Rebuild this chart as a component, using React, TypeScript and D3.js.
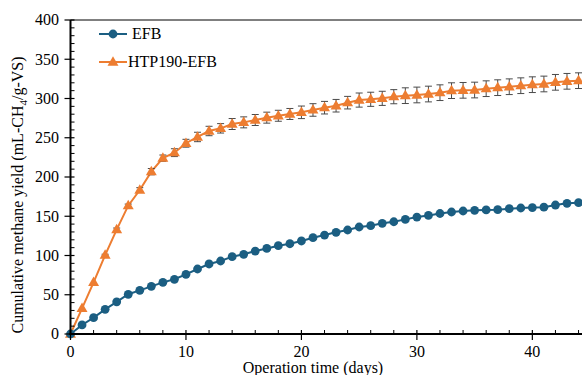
import React from 'react';
import * as d3 from 'd3';

const days = d3.range(0, 45);

const efbYield = [
  0, 11.5, 20.8, 31.4, 41, 50.6, 55.6, 60.7, 65.8, 69.7,
  76, 82.8, 89.2, 93, 98.5, 101.5, 105.7, 109, 112.5, 115,
  118.5, 122.7, 126, 129.5, 132.5, 136.3, 138, 141, 143, 146,
  149, 151, 153.5, 155.4, 156.7, 157.5, 158, 158.4, 159.7, 160.5,
  161, 161.5, 164.3, 166.5, 167.3,
];

const htpYield = [
  0, 32.7, 65.8, 100.6, 133, 163.5, 183.4, 206.8, 224, 231,
  243, 251, 258.6, 262, 267.5, 269.6, 272.6, 275.6, 278, 280.3,
  282.4, 285.4, 288.3, 290.8, 294.7, 298, 299, 300.2, 302.3, 303.6,
  304.5, 305.7, 307.4, 310, 310.4, 310.8, 312.5, 313.8, 315, 316.3,
  317.6, 318.5, 320.6, 321.9, 322.7,
];

const htpError = [
  0, 0, 0, 1, 2, 2, 3, 4, 4, 5,
  5, 6, 6, 6, 7, 7, 7, 7, 7, 7,
  8, 8, 8, 8, 8, 9, 9, 9, 9, 10,
  10, 10, 10, 10, 10, 10, 10, 10, 10, 10,
  10, 10, 10, 10, 10,
];

const xMajorTicks = [0, 10, 20, 30, 40];
const yMajorTicks = [0, 50, 100, 150, 200, 250, 300, 350, 400];

const BLUE = '#1b5e82';
const ORANGE = '#ed7d31';
const FONT = '"Liberation Serif", "Times New Roman", serif';

const App: React.FC = () => {
  const width = 582;
  const height = 375;
  const left = 70.5;
  const top = 20;
  const bottom = 334;

  const x = d3.scaleLinear().domain([0, 44.3]).range([left, width]);
  const y = d3.scaleLinear().domain([0, 400]).range([bottom, top]);

  const xMinor = d3.range(0, 46, 2).filter(t => t % 10 !== 0);
  const yMinor = d3.range(0, 401, 10).filter(t => t % 50 !== 0);

  const line = d3.line<number>().x((_, i) => x(days[i])).y(v => y(v));
  const tri = d3.symbol().type(d3.symbolTriangle).size(52)();

  return (
    <svg
      width={width}
      height={height}
      style={{ position: 'absolute', left: 0, top: 0, background: '#fff', fontFamily: FONT }}
    >
      {/* frame */}
      <line x1={left} x2={width} y1={top} y2={top} stroke="#000" strokeWidth={1} />

      {/* HTP190-EFB */}
      <path d={line(htpYield) || ''} fill="none" stroke={ORANGE} strokeWidth={2} />
      {htpYield.map((v, i) => {
        const e = htpError[i];
        if (!e) return null;
        const cx = x(days[i]);
        return (
          <g key={`err-${i}`} stroke="#4a4a4a" strokeWidth={1}>
            <line x1={cx} x2={cx} y1={y(v + e)} y2={y(v - e)} />
            <line x1={cx - 3.5} x2={cx + 3.5} y1={y(v + e)} y2={y(v + e)} />
            <line x1={cx - 3.5} x2={cx + 3.5} y1={y(v - e)} y2={y(v - e)} />
          </g>
        );
      })}
      {htpYield.map((v, i) => (
        <path
          key={`htp-${i}`}
          d={tri || ''}
          transform={`translate(${x(days[i])},${y(v) + 0.5})`}
          fill={ORANGE}
        />
      ))}

      {/* EFB */}
      <path d={line(efbYield) || ''} fill="none" stroke={BLUE} strokeWidth={2} />
      {efbYield.map((v, i) => (
        <circle key={`efb-${i}`} cx={x(days[i])} cy={y(v)} r={4.4} fill={BLUE} />
      ))}

      {/* X axis */}
      <line x1={left - 1} x2={width} y1={bottom} y2={bottom} stroke="#000" strokeWidth={2} />
      {xMajorTicks.map(t => (
        <g key={`xt-${t}`}>
          <line x1={x(t)} x2={x(t)} y1={bottom - 4} y2={bottom + 6} stroke="#000" strokeWidth={1.2} />
          <text x={x(t)} y={357} textAnchor="middle" fontSize={16}>{t}</text>
        </g>
      ))}
      {xMinor.map(t => (
        <line key={`xm-${t}`} x1={x(t)} x2={x(t)} y1={bottom - 4} y2={bottom} stroke="#000" strokeWidth={1} />
      ))}
      <text x={313} y={373} textAnchor="middle" fontSize={16}>Operation time (days)</text>

      {/* Y axis */}
      <line x1={left} x2={left} y1={top} y2={bottom + 1} stroke="#000" strokeWidth={2} />
      {yMajorTicks.map(t => (
        <g key={`yt-${t}`}>
          <line x1={left - 6} x2={left + 4} y1={y(t)} y2={y(t)} stroke="#000" strokeWidth={1.2} />
          <text x={59} y={y(t)} dy="0.33em" textAnchor="end" fontSize={16}>{t}</text>
        </g>
      ))}
      {yMinor.map(t => (
        <line key={`ym-${t}`} x1={left} x2={left + 4} y1={y(t)} y2={y(t)} stroke="#000" strokeWidth={1} />
      ))}
      <text transform="translate(23,195) rotate(-90)" textAnchor="middle" fontSize={16}>
        Cumulative methane yield (mL-CH
        <tspan fontSize={11} dy={4}>4</tspan>
        <tspan dy={-4}>/g-VS)</tspan>
      </text>

      {/* Legend */}
      <line x1={99} x2={127} y1={34} y2={34} stroke={BLUE} strokeWidth={2} />
      <circle cx={113} cy={34} r={4.4} fill={BLUE} />
      <text x={132} y={39} fontSize={16}>EFB</text>
      <line x1={99} x2={127} y1={62} y2={62} stroke={ORANGE} strokeWidth={2} />
      <path d={tri || ''} transform="translate(113,62.5)" fill={ORANGE} />
      <text x={128} y={67} fontSize={16}>HTP190-EFB</text>
    </svg>
  );
};

export default App;
